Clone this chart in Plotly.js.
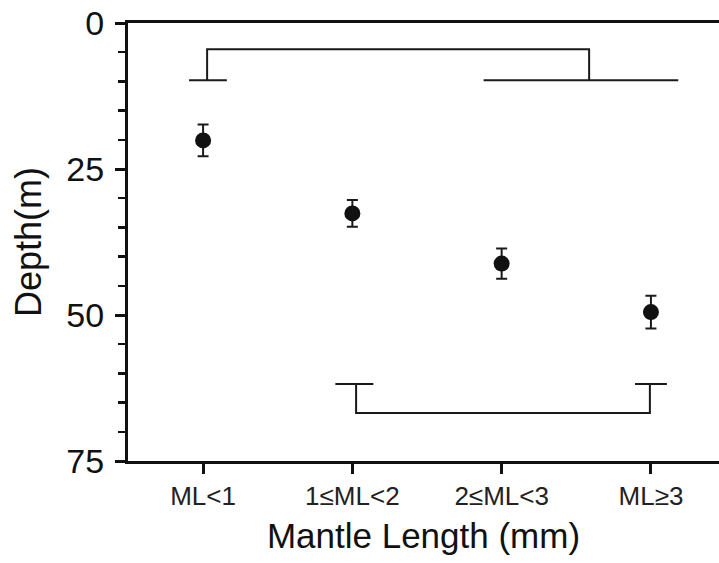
<!DOCTYPE html>
<html>
<head>
<meta charset="utf-8">
<script src="https://cdn.plot.ly/plotly-3.0.1.min.js"></script>
<style>
  html, body { margin: 0; padding: 0; background: #fff; }
  #chart { width: 719px; height: 563px; }
</style>
</head>
<body>
<div id="chart"></div>
<script>
// ---- data ----
const categories = ["ML<1", "1≤ML<2", "2≤ML<3", "ML≥3"];
const catPos = [0, 1, 2, 3];
const depthMean = [20.1, 32.6, 41.2, 49.5];
const depthErr = [2.7, 2.3, 2.6, 2.8];

// significance brackets (x in category units, y in depth)
const topBracketX = [0.027, 0.027, 2.586, 2.586];
const topBracketY = [9.8, 4.5, 4.5, 9.8];
const topCapsX = [-0.094, 0.159, null, 1.879, 3.183];
const topCapsY = [9.8, 9.8, null, 9.8, 9.8];

const botBracketX = [1.025, 1.025, 2.993, 2.993];
const botBracketY = [61.8, 66.8, 66.8, 61.8];
const botCapsX = [0.886, 1.141, null, 2.893, 3.107];
const botCapsY = [61.8, 61.8, null, 61.8, 61.8];

const yTickVals = [0, 25, 50, 75];

const lineStyle = { color: "#1a1a1a", width: 2 };
function bracketTrace(x, y) {
  return { x: x, y: y, type: "scatter", mode: "lines", line: lineStyle,
           hoverinfo: "skip", showlegend: false, connectgaps: false };
}

const traces = [
  bracketTrace(topBracketX, topBracketY),
  bracketTrace(topCapsX, topCapsY),
  bracketTrace(botBracketX, botBracketY),
  bracketTrace(botCapsX, botCapsY),
  {
    x: catPos, y: depthMean, type: "scatter", mode: "markers",
    marker: { color: "#111", size: 16, line: { width: 0 } },
    error_y: { type: "data", array: depthErr, visible: true,
               color: "#1a1a1a", thickness: 2, width: 5.5 },
    showlegend: false
  }
];

const fontFam = "Liberation Sans, Arial, Helvetica, sans-serif";

const layout = {
  width: 719, height: 563,
  margin: { l: 128, r: 0, t: 23, b: 102, pad: 0 },
  paper_bgcolor: "#fff", plot_bgcolor: "#fff",
  showlegend: false,
  font: { family: fontFam, color: "#111" },
  xaxis: {
    range: [-0.503, 3.456],
    tickvals: catPos, ticktext: categories,
    ticks: "outside", ticklen: 10, tickwidth: 3, tickcolor: "#111",
    showline: true, linewidth: 3, linecolor: "#111", mirror: true,
    showgrid: false, zeroline: false,
    tickfont: { size: 26, color: "#222", family: fontFam },
    ticklabelstandoff: 0,
    title: { text: "Mantle Length (mm)", font: { size: 35, color: "#111", family: fontFam }, standoff: 14 }
  },
  yaxis: {
    range: [75, 0],
    tickvals: yTickVals,
    ticks: "outside", ticklen: 10, tickwidth: 3, tickcolor: "#111",
    minor: { dtick: 5, tick0: 0, ticks: "outside", ticklen: 7, tickwidth: 2.5, tickcolor: "#111", showgrid: false },
    showline: true, linewidth: 3, linecolor: "#111",
    showgrid: false, zeroline: false,
    tickfont: { size: 34, color: "#111", family: fontFam },
    ticklabelstandoff: 4,
    title: { text: "Depth(m)", font: { size: 36, color: "#111", family: fontFam }, standoff: 14 }
  }
};

Plotly.newPlot("chart", traces, layout, { displayModeBar: false, staticPlot: true });
</script>
</body>
</html>
